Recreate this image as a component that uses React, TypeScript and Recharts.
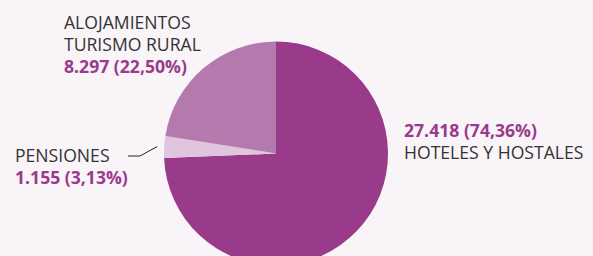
import { Pie, PieChart, Cell } from "recharts";

const names = ["HOTELES Y HOSTALES", "PENSIONES", "ALOJAMIENTOS TURISMO RURAL"];
const nameLines = [["HOTELES Y HOSTALES"], ["PENSIONES"], ["ALOJAMIENTOS", "TURISMO RURAL"]];
const values = [27418, 1155, 8297];
const percents = ["74,36%", "3,13%", "22,50%"];
const colors = ["#9a3a8b", "#dfc6de", "#b57aad"];

const data = names.map((name, i) => ({ name, value: values[i] }));

const fmt = (v: number) => v.toLocaleString("de-DE");

const FONT = "'Open Sans', sans-serif";
const VALUE_COLOR = "#9a3a8b";
const TEXT_COLOR = "#333";

// label anchor offsets from pie centre
const labelLayout = [
  { dx: 128, valueFirst: true, dy: -17 },
  { dx: -261, valueFirst: false, dy: 8 },
  { dx: -212, valueFirst: false, dy: -125 },
];
const LINE_H = 22;

function renderLabel(props: any) {
  const { cx, cy, index, midAngle, outerRadius } = props;
  const lay = labelLayout[index];
  const x = cx + lay.dx;
  const rows: { text: string; bold: boolean }[] = [];
  const valueRow = { text: `${fmt(values[index])} (${percents[index]})`, bold: true };
  if (lay.valueFirst) rows.push(valueRow);
  nameLines[index].forEach((t) => rows.push({ text: t, bold: false }));
  if (!lay.valueFirst) rows.push(valueRow);

  let line = null;
  if (index === 1) {
    const rad = (-midAngle * Math.PI) / 180;
    const ex = cx + (outerRadius + 7) * Math.cos(rad);
    const ey = cy + (outerRadius + 7) * Math.sin(rad);
    line = (
      <polyline
        points={`${cx - 148},${cy + 2.5} ${cx - 136},${cy + 2.5} ${ex},${ey}`}
        fill="none"
        stroke="#222"
        strokeWidth={1}
      />
    );
  }

  return (
    <g>
      {line}
      {rows.map((r, i) => (
        <text
          key={i}
          x={x}
          y={cy + lay.dy + i * LINE_H}
          textAnchor="start"
          fontFamily={FONT}
          fontSize={17.6}
          fontWeight={r.bold ? 700 : 400}
          fill={r.bold ? VALUE_COLOR : TEXT_COLOR}
        >
          {r.text}
        </text>
      ))}
    </g>
  );
}

export default function App() {
  return (
    <div style={{ position: "absolute", left: 0, top: 0, width: 593, height: 256, background: "#f9f4f8" }}>
      <PieChart width={593} height={256} margin={{ top: 0, right: 0, bottom: 0, left: 0 }}>
        <Pie
          data={data}
          dataKey="value"
          cx={276}
          cy={153.5}
          outerRadius={112}
          startAngle={90}
          endAngle={-270}
          stroke="none"
          label={renderLabel}
          labelLine={false}
          isAnimationActive={false}
        >
          {data.map((d, i) => (
            <Cell key={d.name} fill={colors[i]} />
          ))}
        </Pie>
      </PieChart>
    </div>
  );
}
